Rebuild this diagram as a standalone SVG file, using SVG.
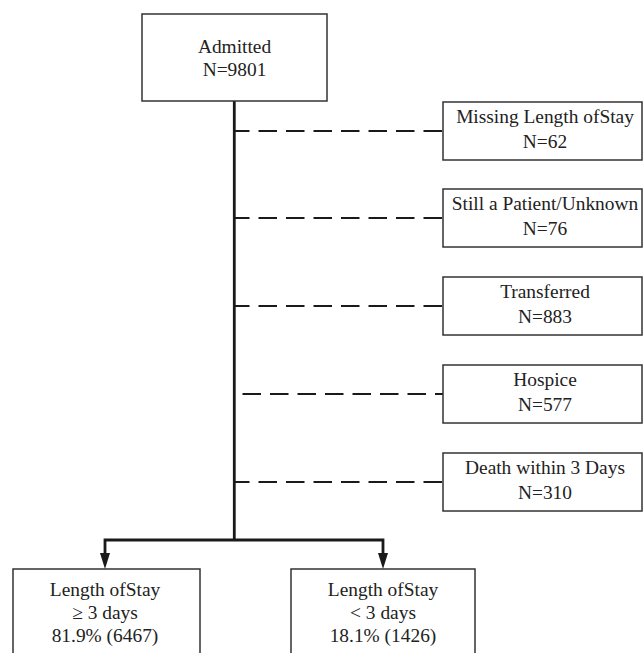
<svg xmlns="http://www.w3.org/2000/svg" width="643" height="653" viewBox="0 0 643 653">
<defs>
<style>
.box{fill:#fff;stroke:#333;stroke-width:1.5}
.t{font-family:"Liberation Serif","Times New Roman","DejaVu Serif",serif;font-size:19.4px;fill:#222;text-anchor:middle}
.main{stroke:#1a1a1a;stroke-width:2.8;fill:none}
.dash{stroke:#1a1a1a;stroke-width:2;stroke-dasharray:18.5 9;fill:none}
.head{fill:#1a1a1a}
</style>
</defs>
<rect width="643" height="653" fill="#fff"/>
<g id="connectors">
<path class="main" d="M234.3,101 V540"/>
<path class="main" d="M105,556 V540 H383 V556"/>
<polygon class="head" points="100,553 110,553 105,569"/>
<polygon class="head" points="378,553 388,553 383,569"/>
<path class="dash" d="M442,131 H235"/>
<path class="dash" d="M442,218 H235"/>
<path class="dash" d="M442,306 H235"/>
<path class="dash" d="M242.5,394 H443"/>
<path class="dash" d="M442,482 H235"/>
</g>
<g id="admitted" class="t">
<rect class="box" x="142" y="14" width="185" height="87"/>
<text x="234.5" y="53">Admitted</text>
<text x="234.5" y="76">N=9801</text>
</g>
<g id="missing" class="t">
<rect class="box" x="443" y="102" width="199" height="58"/>
<text x="545" y="123">Missing Length ofStay</text>
<text x="545" y="148">N=62</text>
</g>
<g id="still" class="t">
<rect class="box" x="443" y="189" width="199" height="58"/>
<text x="545" y="210">Still a Patient/Unknown</text>
<text x="545" y="235">N=76</text>
</g>
<g id="transferred" class="t">
<rect class="box" x="443" y="277" width="199" height="58"/>
<text x="545" y="298">Transferred</text>
<text x="545" y="323">N=883</text>
</g>
<g id="hospice" class="t">
<rect class="box" x="443" y="365" width="199" height="58"/>
<text x="545" y="386">Hospice</text>
<text x="545" y="411">N=577</text>
</g>
<g id="death" class="t">
<rect class="box" x="443" y="453" width="199" height="58"/>
<text x="545" y="474">Death within 3 Days</text>
<text x="545" y="499">N=310</text>
</g>
<g id="los-ge3" class="t">
<rect class="box" x="13" y="569" width="187" height="95"/>
<text x="105" y="596">Length ofStay</text>
<text x="105" y="619">≥ 3 days</text>
<text x="105" y="642">81.9% (6467)</text>
</g>
<g id="los-lt3" class="t">
<rect class="box" x="291" y="569" width="184" height="95"/>
<text x="383" y="596">Length ofStay</text>
<text x="383" y="619">&lt; 3 days</text>
<text x="383" y="642">18.1% (1426)</text>
</g>
</svg>
